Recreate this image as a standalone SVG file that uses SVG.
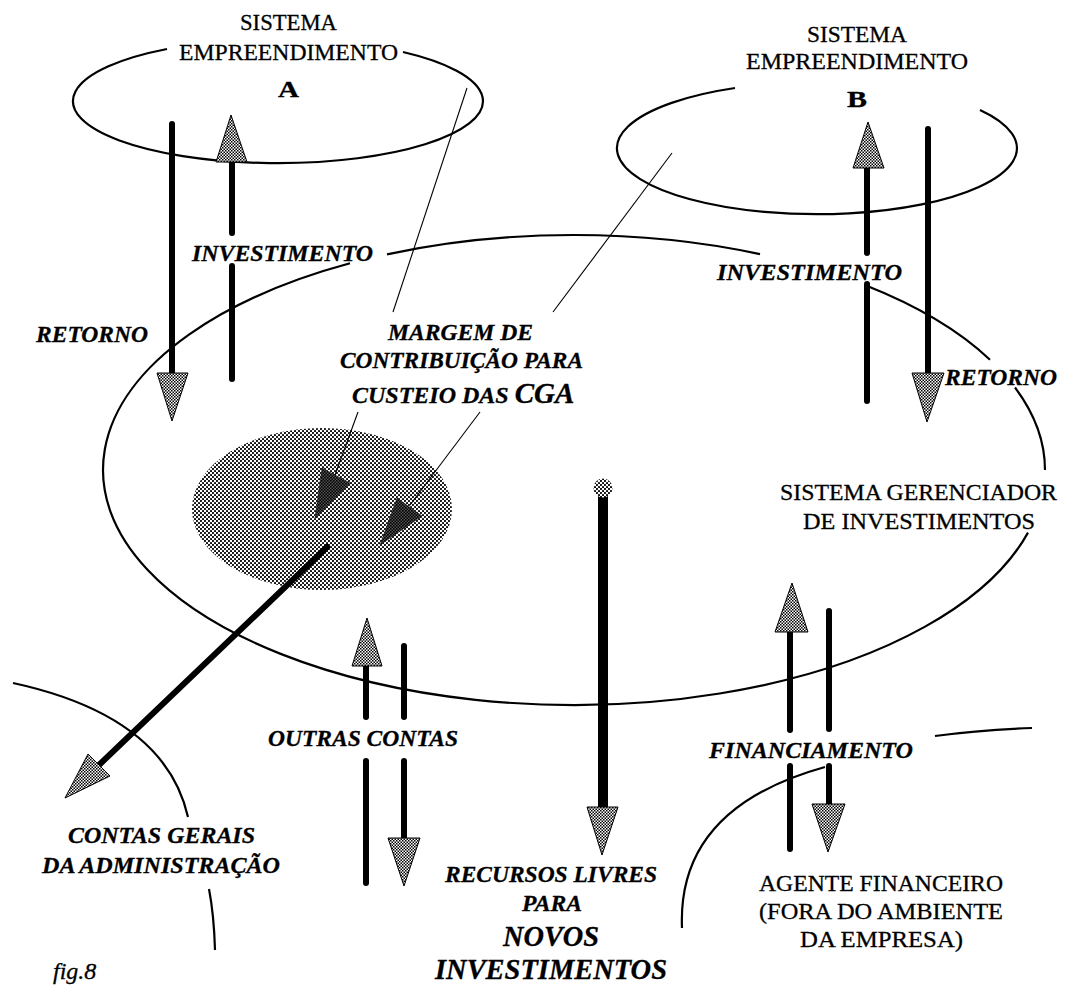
<svg xmlns="http://www.w3.org/2000/svg" width="1065" height="986" viewBox="0 0 1065 986">
  <defs>
    <!-- checkered screen used inside arrowheads -->
    <pattern id="hatch" width="3" height="3" patternUnits="userSpaceOnUse">
      <rect width="3" height="3" fill="#fff"/>
      <rect width="1.5" height="1.5" fill="#000"/>
      <rect x="1.5" y="1.5" width="1.5" height="1.5" fill="#000"/>
    </pattern>
    <!-- light stipple for the CGA area -->
    <pattern id="stipple" width="4" height="4" patternUnits="userSpaceOnUse">
      <rect width="4" height="4" fill="#fff"/>
      <circle cx="1" cy="1" r="1.05" fill="#000"/>
      <circle cx="3" cy="3" r="1.05" fill="#000"/>
    </pattern>
    <!-- dark stipple for the CGA pointers -->
    <pattern id="darkdot" width="3" height="3" patternUnits="userSpaceOnUse">
      <rect width="3" height="3" fill="#555"/>
      <rect width="1.6" height="1.6" fill="#000"/>
      <rect x="1.5" y="1.5" width="1.6" height="1.6" fill="#000"/>
    </pattern>
  </defs>
  <style>
    .ring { fill: none; stroke: #000; stroke-width: 2.2; }
    .shaft { fill: none; stroke: #000; stroke-width: 6; stroke-linecap: round; }
    .wide { fill: none; stroke: #000; stroke-width: 10; }
    .lead { fill: none; stroke: #000; stroke-width: 1.1; }
    .head { fill: url(#hatch); stroke: #000; stroke-width: 1; stroke-linejoin: miter; }
    .pointer { fill: url(#darkdot); stroke: #222; stroke-width: 0.6; }
    text { font-family: "Liberation Serif", "Times New Roman", serif; font-size: 24px; fill: #000; stroke: #000; stroke-width: 0.3; }
    .bi { font-weight: bold; font-style: italic; }
    .big { font-size: 29px; }
  </style>

  <rect width="1065" height="986" fill="#fff"/>

  <!-- Sistema Empreendimento A -->
  <g id="sistema-a">
    <path class="ring" d="M 403,52 A 205 62 0 1 1 167,49"/>
    <text x="240" y="30" textLength="97" lengthAdjust="spacingAndGlyphs">SISTEMA</text>
    <text x="179" y="60" textLength="219" lengthAdjust="spacingAndGlyphs">EMPREENDIMENTO</text>
    <text x="278" y="97" font-weight="bold" font-size="26" textLength="21" lengthAdjust="spacingAndGlyphs">A</text>
  </g>

  <!-- Sistema Empreendimento B -->
  <g id="sistema-b">
    <path class="ring" d="M 980,110 A 200 66 0 1 1 735,88"/>
    <text x="807" y="42" textLength="100" lengthAdjust="spacingAndGlyphs">SISTEMA</text>
    <text x="746" y="69" textLength="222" lengthAdjust="spacingAndGlyphs">EMPREENDIMENTO</text>
    <text x="847" y="107" font-weight="bold" font-size="26" textLength="20" lengthAdjust="spacingAndGlyphs">B</text>
  </g>

  <!-- Sistema Gerenciador de Investimentos -->
  <g id="sistema-gerenciador">
    <path class="ring" d="M 387,254.3 A 471 235 0 0 1 760,254.1"/>
    <path class="ring" d="M 866,285.6 A 471 235 0 0 1 990,359.8"/>
    <path class="ring" d="M 1015,387.5 A 471 235 0 0 1 1045,470"/>
    <path class="ring" d="M 1028,532.6 A 471 235 0 1 1 350,263.3"/>
    <text x="780" y="500" textLength="277" lengthAdjust="spacingAndGlyphs">SISTEMA GERENCIADOR</text>
    <text x="803" y="529" textLength="232" lengthAdjust="spacingAndGlyphs">DE INVESTIMENTOS</text>
  </g>

  <!-- Margem de contribuicao (CGA area) -->
  <g id="margem-cga">
    <ellipse cx="322" cy="509" rx="130" ry="81" fill="url(#stipple)"/>
    <polygon class="pointer" points="322,468 350,483 315,518"/>
    <polygon class="pointer" points="397,498 422,516 380,545"/>
    <text class="bi" x="388" y="340" textLength="145" lengthAdjust="spacingAndGlyphs">MARGEM DE</text>
    <text class="bi" x="340" y="368" textLength="243" lengthAdjust="spacingAndGlyphs">CONTRIBUIÇÃO PARA</text>
    <text class="bi" x="352" y="403">CUSTEIO DAS <tspan font-size="29">CGA</tspan></text>
  </g>

  <!-- Contas gerais da administracao -->
  <g id="contas-gerais">
    <path class="ring" d="M 13,683 Q 165,716 188,817"/>
    <path class="ring" d="M 209,889 Q 214,915 215,950"/>
    <text class="bi" x="68" y="843" textLength="187" lengthAdjust="spacingAndGlyphs">CONTAS GERAIS</text>
    <text class="bi" x="42" y="873" textLength="238" lengthAdjust="spacingAndGlyphs">DA ADMINISTRAÇÃO</text>
  </g>

  <!-- Agente financeiro -->
  <g id="agente-financeiro">
    <path class="ring" d="M 825,767 Q 677,808 682,928"/>
    <path class="ring" d="M 935,736 Q 980,730 1032,728"/>
    <text x="759" y="891" textLength="244" lengthAdjust="spacingAndGlyphs">AGENTE FINANCEIRO</text>
    <text x="759" y="919" textLength="244" lengthAdjust="spacingAndGlyphs">(FORA DO AMBIENTE</text>
    <text x="800" y="947" textLength="163" lengthAdjust="spacingAndGlyphs">DA EMPRESA)</text>
  </g>

  <!-- Recursos livres -->
  <g id="recursos-livres">
    <text class="bi" x="445" y="882" textLength="212" lengthAdjust="spacingAndGlyphs">RECURSOS LIVRES</text>
    <text class="bi" x="522" y="911" textLength="60" lengthAdjust="spacingAndGlyphs">PARA</text>
    <text class="bi big" x="503" y="946" textLength="96" lengthAdjust="spacingAndGlyphs">NOVOS</text>
    <text class="bi big" x="435" y="979" textLength="232" lengthAdjust="spacingAndGlyphs">INVESTIMENTOS</text>
  </g>

  <!-- Flows between the systems -->
  <g id="connectors">
    <!-- A: retorno (down) and investimento (up) -->
    <line class="shaft" x1="172" y1="124" x2="172" y2="373"/>
    <polygon class="head" points="157,373 188,373 172,421"/>
    <line class="shaft" x1="232" y1="162" x2="232" y2="233"/>
    <line class="shaft" x1="232" y1="266" x2="232" y2="379"/>
    <polygon class="head" points="231,115 247,162 216,162"/>

    <!-- B: investimento (up) and retorno (down) -->
    <line class="shaft" x1="867" y1="168" x2="867" y2="253"/>
    <line class="shaft" x1="867" y1="284" x2="867" y2="401"/>
    <polygon class="head" points="868,122 884,168 853,168"/>
    <line class="shaft" x1="928" y1="129" x2="928" y2="373"/>
    <polygon class="head" points="912,373 944,373 927,422"/>

    <!-- outras contas -->
    <line class="shaft" x1="366" y1="666" x2="366" y2="717"/>
    <line class="shaft" x1="366" y1="761" x2="366" y2="883"/>
    <polygon class="head" points="367,618 382,666 352,666"/>
    <line class="shaft" x1="404" y1="646" x2="404" y2="717"/>
    <line class="shaft" x1="404" y1="761" x2="404" y2="838"/>
    <polygon class="head" points="388,838 420,838 404,886"/>

    <!-- financiamento -->
    <line class="shaft" x1="790" y1="632" x2="790" y2="730"/>
    <line class="shaft" x1="790" y1="766" x2="790" y2="849"/>
    <polygon class="head" points="792,583 808,632 775,632"/>
    <line class="shaft" x1="829" y1="611" x2="829" y2="729"/>
    <line class="shaft" x1="829" y1="766" x2="829" y2="804"/>
    <polygon class="head" points="812,804 845,804 828,852"/>

    <!-- recursos livres para novos investimentos -->
    <line class="wide" x1="603" y1="496" x2="603" y2="808"/>
    <circle cx="603" cy="488" r="9.5" fill="url(#stipple)"/>
    <polygon class="head" points="587,807 618,807 602,855"/>

    <!-- contas gerais da administracao -->
    <line class="shaft" x1="327" y1="547" x2="99" y2="765"/>
    <polygon class="head" points="88,754 110,776 65,798"/>

    <!-- leaders for the margem label -->
    <line class="lead" x1="467" y1="88" x2="393" y2="312"/>
    <line class="lead" x1="672" y1="153" x2="553" y2="312"/>
    <line class="lead" x1="358" y1="412" x2="335" y2="475"/>
    <line class="lead" x1="480" y1="412" x2="410" y2="505"/>
  </g>

  <!-- flow labels -->
  <g id="flow-labels">
    <text class="bi" x="192" y="261" textLength="181" lengthAdjust="spacingAndGlyphs">INVESTIMENTO</text>
    <text class="bi" x="36" y="342" textLength="112" lengthAdjust="spacingAndGlyphs">RETORNO</text>
    <text class="bi" x="717" y="280" textLength="185" lengthAdjust="spacingAndGlyphs">INVESTIMENTO</text>
    <text class="bi" x="945" y="385" textLength="112" lengthAdjust="spacingAndGlyphs">RETORNO</text>
    <text class="bi" x="268" y="746" textLength="190" lengthAdjust="spacingAndGlyphs">OUTRAS CONTAS</text>
    <text class="bi" x="709" y="758" textLength="204" lengthAdjust="spacingAndGlyphs">FINANCIAMENTO</text>
  </g>

  <text x="53" y="979" font-style="italic" font-size="24" stroke-width="0">fig.8</text>
</svg>
